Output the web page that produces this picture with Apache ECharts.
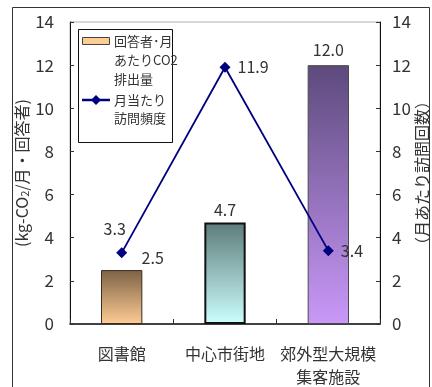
<!DOCTYPE html>
<html>
<head>
<meta charset="utf-8">
<script src="https://cdn.jsdelivr.net/npm/echarts@6/dist/echarts.min.js"></script>
<style>
  html, body { margin: 0; padding: 0; background: #fff; }
  #chart { width: 432px; height: 387px; }
</style>
</head>
<body>
<div id="chart"></div>
<script>
// Facility categories
const categories = ['図書館', '中心市街地', '郊外型大規模\n集客施設'];
// CO2 emission per respondent per month (kg-CO2)
const co2Values = [2.5, 4.7, 12.0];
// Visits per month
const visitValues = [3.3, 11.9, 3.4];
// Shared tick values for both value axes
const axisTicks = [0, 2, 4, 6, 8, 10, 12, 14];

const barColors = [
  { top: '#7d6246', bottom: '#ffcc94', border: '#3b2c1e', width: 1 },
  { top: '#5e7c79', bottom: '#ccffff', border: '#111111', width: 2 },
  { top: '#5d4a7c', bottom: '#c998f8', border: '#4a4a4a', width: 1 }
];
const lineColor = '#000080';
const textColor = '#333333';
const font = '"Noto Sans CJK JP", "Noto Sans", sans-serif';

const chart = echarts.init(document.getElementById('chart'), null, { renderer: 'canvas' });

const barData = co2Values.map((v, i) => ({
  value: v,
  itemStyle: {
    color: new echarts.graphic.LinearGradient(0, 0, 0, 1, [
      { offset: 0, color: barColors[i].top },
      { offset: 1, color: barColors[i].bottom }
    ]),
    borderColor: barColors[i].border,
    borderWidth: barColors[i].width
  },
  label: i === 0 ? { offset: [31, 1] } : (i === 2 ? { offset: [0, -2] } : {})
}));

const lineData = visitValues.map((v, i) => ({
  value: v,
  label: i === 0
    ? { position: 'top', offset: [-7, -5] }
    : { position: 'right', offset: [2, 0] }
}));

const yAxisCommon = {
  type: 'value',
  min: axisTicks[0],
  max: axisTicks[axisTicks.length - 1],
  interval: axisTicks[1] - axisTicks[0],
  splitLine: { show: false },
  axisLine: { show: true, lineStyle: { color: '#111', width: 1 } },
  axisTick: { show: true, inside: true, length: 4, lineStyle: { color: '#333' } },
  nameLocation: 'middle',
  nameRotate: 90,
  nameMoveOverlap: false,
  nameTextStyle: { color: textColor, fontFamily: font, fontSize: 16 }
};

chart.setOption({
  animation: false,
  backgroundColor: '#fff',
  textStyle: { fontFamily: font },
  grid: {
    left: 70, right: 52, top: 22, bottom: 63,
    outerBoundsMode: 'none',
    containLabel: false,
    show: true, borderColor: '#b0b0b0', borderWidth: 1, backgroundColor: 'transparent'
  },
  xAxis: {
    type: 'category',
    data: categories,
    axisLine: { lineStyle: { color: '#111', width: 1.5 } },
    axisTick: { show: true, inside: true, length: 5, lineStyle: { color: '#333' } },
    axisLabel: {
      color: textColor, fontFamily: font, fontSize: 16, margin: 18, lineHeight: 23,
      interval: 0
    }
  },
  yAxis: [
    Object.assign({}, yAxisCommon, {
      position: 'left',
      name: '(kg-CO{sub|2}/月・回答者)',
      nameGap: 40,
      nameTextStyle: {
        color: textColor, fontFamily: font, fontSize: 16,
        rich: { sub: { fontSize: 11, verticalAlign: 'bottom', padding: [6, 0, 0, 0], color: textColor } }
      },
      axisLabel: { color: textColor, fontFamily: font, fontSize: 17, margin: 16 }
    }),
    Object.assign({}, yAxisCommon, {
      position: 'right',
      name: '（月あたり訪問回数）',
      nameGap: 34,
      axisLabel: { color: textColor, fontFamily: font, fontSize: 17, margin: 12 }
    })
  ],
  series: [
    {
      name: '回答者･月あたりCO2排出量',
      type: 'bar',
      yAxisIndex: 0,
      barWidth: '40%',
      data: barData,
      label: {
        show: true, position: 'top', distance: 5,
        color: textColor, fontFamily: font, fontSize: 16,
        formatter: p => p.value.toFixed(1)
      }
    },
    {
      name: '月当たり訪問頻度',
      type: 'line',
      yAxisIndex: 1,
      data: lineData,
      symbol: 'diamond',
      symbolSize: 11,
      lineStyle: { color: lineColor, width: 1.8 },
      itemStyle: { color: lineColor },
      label: {
        show: true, distance: 5,
        color: textColor, fontFamily: font, fontSize: 16,
        formatter: p => p.value.toFixed(1)
      },
      z: 5
    }
  ],
  graphic: [
    // outer frame
    { type: 'rect', shape: { x: 12.5, y: 7.5, width: 417, height: 400 },
      style: { fill: 'none', stroke: '#333', lineWidth: 1 }, z: 0, silent: true },
    // legend box
    { type: 'group', left: 78, top: 29, z: 100, children: [
      { type: 'rect', shape: { x: 0.5, y: 0.5, width: 94, height: 113 },
        style: { fill: '#fff', stroke: '#111', lineWidth: 1 } },
      { type: 'rect', shape: { x: 4.5, y: 8.5, width: 27, height: 7 },
        style: { fill: barColors[0].bottom, stroke: '#444', lineWidth: 1 } },
      { type: 'text', x: 36, y: 3,
        style: { text: '回答者･月\nあたりCO2\n排出量', font: '13px ' + font, lineHeight: 19,
                 fill: textColor } },
      { type: 'line', shape: { x1: 4, y1: 71, x2: 32, y2: 71 },
        style: { stroke: lineColor, lineWidth: 2.5 } },
      { type: 'polygon', shape: { points: [[18, 66], [23, 71], [18, 76], [13, 71]] },
        style: { fill: lineColor } },
      { type: 'text', x: 36, y: 62,
        style: { text: '月当たり\n訪問頻度', font: '13px ' + font, lineHeight: 18,
                 fill: textColor } }
    ]}
  ]
});
</script>
</body>
</html>
